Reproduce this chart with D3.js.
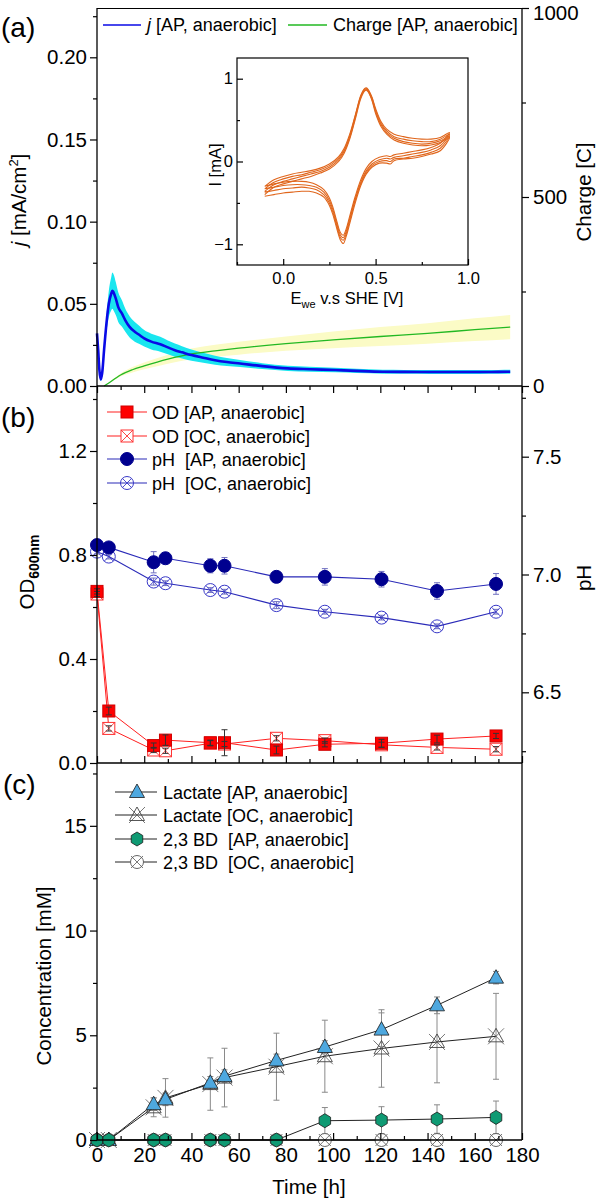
<!DOCTYPE html>
<html><head><meta charset="utf-8">
<script src="https://cdn.jsdelivr.net/npm/d3@7"></script>
<style>
body{margin:0;background:#fff}
text{font-family:Arial,"Liberation Sans",sans-serif;fill:#000}
</style>
</head><body>
<svg id="chart" width="597" height="1203"></svg>
<script>
// ---------------- DATA ----------------
// Panel (a): current density j (mA/cm2) vs time (h)
const jTime = [0,0.5,1,1.6,2.2,3,4,5,6,6.5,7,8,9,10.6,12,13.8,16,18,20,23,26.8,30,33,36,40,45,50,55,60.6,70,80.8,90,101,110,121,130,141,150,162,170,175];
const jMean = [0.032,0.022,0.010,0.004,0.008,0.022,0.038,0.050,0.056,0.058,0.057,0.053,0.048,0.044,0.040,0.036,0.033,0.031,0.029,0.027,0.0254,0.0235,0.0218,0.0205,0.0188,0.0172,0.0157,0.0146,0.0137,0.0121,0.0107,0.0102,0.0097,0.0092,0.0087,0.0086,0.0085,0.0085,0.0085,0.0086,0.0087];
const jSD = [0,0.001,0.001,0.001,0.002,0.003,0.005,0.008,0.010,0.011,0.011,0.010,0.009,0.008,0.007,0.0065,0.006,0.0055,0.005,0.0048,0.0045,0.0042,0.004,0.0037,0.0034,0.003,0.0027,0.0024,0.0021,0.0018,0.0016,0.0015,0.0014,0.0013,0.0012,0.0012,0.0012,0.0012,0.0012,0.0012,0.0012];
// Panel (a): cumulative charge (C)
const qTime = [3,5,8,10,15,20,30,40,50,60,80,100,120,140,160,175];
const qMean = [0,8,21,29,43,53,71,85,93,100,112,122,131,139,149,156];
const qSD   = [0,1,3,4,7,9,12,14,16,17,19,22,25,27,30,32];
// Inset CV: E (V vs SHE) and I (mA), four cycles
const cvEfwd = [-0.10,-0.05,0.00,0.05,0.10,0.15,0.20,0.25,0.30,0.33,0.36,0.39,0.42,0.44,0.45,0.46,0.48,0.50,0.53,0.56,0.60,0.65,0.70,0.75,0.80,0.85,0.90];
const cvErev = [0.90,0.85,0.80,0.75,0.70,0.65,0.60,0.58,0.56,0.52,0.48,0.45,0.42,0.39,0.36,0.34,0.325,0.31,0.29,0.27,0.25,0.22,0.18,0.14,0.10,0.05,0.00,-0.05,-0.10];
const cvFwd1 = [-0.30,-0.22,-0.18,-0.15,-0.13,-0.11,-0.08,-0.03,0.06,0.16,0.33,0.56,0.80,0.88,0.89,0.87,0.78,0.64,0.48,0.39,0.33,0.30,0.28,0.27,0.27,0.29,0.35];
const cvFwd2 = [-0.33,-0.25,-0.21,-0.18,-0.16,-0.13,-0.10,-0.05,0.04,0.14,0.31,0.55,0.79,0.87,0.88,0.86,0.77,0.62,0.46,0.37,0.30,0.27,0.25,0.24,0.24,0.27,0.33];
const cvFwd3 = [-0.36,-0.28,-0.24,-0.21,-0.18,-0.15,-0.12,-0.07,0.02,0.12,0.29,0.53,0.78,0.86,0.87,0.85,0.75,0.60,0.44,0.35,0.28,0.24,0.22,0.21,0.22,0.25,0.31];
const cvFwd4 = [-0.40,-0.31,-0.27,-0.24,-0.21,-0.18,-0.14,-0.09,0.00,0.10,0.27,0.51,0.76,0.85,0.86,0.84,0.74,0.58,0.42,0.33,0.26,0.22,0.20,0.19,0.20,0.23,0.29];
const cvRev1 = [0.35,0.22,0.17,0.14,0.12,0.10,0.08,0.06,0.07,0.05,0.00,-0.08,-0.22,-0.42,-0.66,-0.82,-0.89,-0.86,-0.72,-0.56,-0.44,-0.34,-0.28,-0.25,-0.24,-0.24,-0.25,-0.27,-0.30];
const cvRev2 = [0.33,0.19,0.14,0.11,0.09,0.07,0.05,0.03,0.04,0.02,-0.03,-0.11,-0.25,-0.45,-0.69,-0.85,-0.92,-0.89,-0.75,-0.59,-0.47,-0.37,-0.31,-0.29,-0.28,-0.28,-0.29,-0.31,-0.33];
const cvRev3 = [0.31,0.16,0.11,0.08,0.06,0.04,0.03,0.00,0.01,0.00,-0.05,-0.13,-0.27,-0.47,-0.72,-0.88,-0.95,-0.92,-0.78,-0.62,-0.50,-0.40,-0.34,-0.32,-0.31,-0.32,-0.33,-0.35,-0.37];
const cvRev4 = [0.29,0.13,0.09,0.06,0.04,0.03,0.01,-0.03,-0.02,-0.02,-0.07,-0.15,-0.29,-0.50,-0.75,-0.91,-0.99,-0.95,-0.81,-0.65,-0.53,-0.43,-0.38,-0.36,-0.36,-0.37,-0.38,-0.40,-0.42];
// Panels (b) and (c): sampling times (h)
const sampleTimes = [0,5,24,29,48,54,76,96.5,120.5,144,169];
// Panel (b)
const odAP = [0.66,0.20,0.067,0.088,0.078,0.078,0.05,0.072,0.076,0.092,0.104];
const odAPerr = [0.01,0.015,0.01,0.02,0.01,0.05,0.015,0.01,0.015,0.015,0.01];
const odOC = [0.65,0.133,0.05,0.047,0.076,0.073,0.095,0.086,0.07,0.06,0.053];
const odOCerr = [0.01,0.01,0.01,0.01,0.01,0.01,0.01,0.01,0.01,0.01,0.01];
const phAP = [7.125,7.115,7.052,7.069,7.037,7.037,6.99,6.99,6.98,6.93,6.96];
const phAPerr = [0.01,0.01,0.045,0.02,0.03,0.035,0.02,0.035,0.033,0.035,0.044];
const phOC = [7.097,7.076,6.97,6.963,6.934,6.927,6.87,6.842,6.817,6.78,6.842];
const phOCerr = [0.01,0.01,0.015,0.01,0.01,0.01,0.015,0.01,0.01,0.01,0.01];
// Panel (c)
const lacAP = [0,0,1.71,1.94,2.73,3.05,3.8,4.44,5.27,6.43,7.75];
const lacAPerr = [0,0,0.3,0.3,0.3,0.3,0.3,0.3,0.8,0.4,0.3];
const lacOC = [0,0,1.56,2.01,2.67,2.98,3.5,4.0,4.37,4.68,4.95];
const lacOCerr = [0,0,0.45,0.92,1.25,1.4,1.6,1.72,1.85,1.95,2.05];
const bdAP = [0,0,0,0,0,0,0,0.92,0.95,1.0,1.08];
const bdAPerr = [0,0,0,0,0,0,0,0.63,0.64,0.68,0.78];
const bdOC = [0,0,0,0,0,0,0,0,0,0,0];
// Ticks
const timeTicks = [0,20,40,60,80,100,120,140,160,180];
const timeMinor = [10,30,50,70,90,110,130,150,170];
const jTicks = [0,0.05,0.10,0.15,0.20];
const jMinor = [0.025,0.075,0.125,0.175,0.225];
const qTicks = [0,500,1000];
const qMinor = [250,750];
const odTicks = [0,0.4,0.8,1.2];
const odMinor = [0.2,0.6,1.0,1.4];
const phTicks = [6.5,7.0,7.5];
const phMinor = [6.25,6.75,7.25,7.75];
const concTicks = [0,5,10,15];
const concMinor = [2.5,7.5,12.5,17.5];
const cvXTicks = [0,0.5,1.0];
const cvXMinor = [-0.25,0.25,0.75];
const cvYTicks = [-1,0,1];
const cvYMinor = [-0.5,0.5];

// ---------------- LAYOUT ----------------
const svg = d3.select("#chart");
const L = 97, R = 522;
const x = d3.scaleLinear().domain([0,180]).range([L,R]);
const yJ = d3.scaleLinear().domain([0,0.23]).range([386,8]);
const yQ = d3.scaleLinear().domain([0,1000]).range([386,8]);
const yOD = d3.scaleLinear().domain([0,1.45]).range([763,386]);
const yPH = d3.scaleLinear().domain([6.2,7.8]).range([763,386]);
const yC = d3.scaleLinear().domain([0,18]).range([1140,763]);
const FS = 20.5;

function styleAxis(g, fs){
  g.select(".domain").remove();
  g.selectAll(".tick line").attr("stroke","#000").attr("stroke-width",1.2);
  g.selectAll(".tick text").attr("font-size",fs).attr("fill","#000")
    .style("font-family","Arial, 'Liberation Sans', sans-serif");
}
function axisPair(axisFn, scale, majors, minors, tx, ty, major, minor, fmt, fs, pad){
  const g1 = svg.append("g").attr("transform",`translate(${tx},${ty})`)
    .call(axisFn(scale).tickValues(majors).tickSize(major).tickPadding(pad).tickFormat(fmt));
  styleAxis(g1, fs);
  const g2 = svg.append("g").attr("transform",`translate(${tx},${ty})`)
    .call(axisFn(scale).tickValues(minors).tickSize(minor).tickFormat(""));
  styleAxis(g2, fs);
  return g1;
}

// ---------------- PANEL (a) ----------------
const qData = qTime.map((t,i)=>({t, m:qMean[i], s:qSD[i]}));
const jData = jTime.map((t,i)=>({t, m:jMean[i], s:jSD[i]}));
svg.append("path").datum(qData)
  .attr("d", d3.area().x(d=>x(d.t)).y0(d=>yQ(Math.max(0,d.m-d.s))).y1(d=>yQ(d.m+d.s)).curve(d3.curveMonotoneX))
  .attr("fill","#fbfbc6");
svg.append("path").datum(jData)
  .attr("d", d3.area().x(d=>x(d.t)).y0(d=>yJ(d.m-d.s)).y1(d=>yJ(d.m+d.s)).curve(d3.curveMonotoneX))
  .attr("fill","#19e6ef");
svg.append("path").datum(qData)
  .attr("d", d3.line().x(d=>x(d.t)).y(d=>yQ(d.m)).curve(d3.curveMonotoneX))
  .attr("fill","none").attr("stroke","#22b822").attr("stroke-width",1.3);
svg.append("path").datum(jData)
  .attr("d", d3.line().x(d=>x(d.t)).y(d=>yJ(d.m)).curve(d3.curveMonotoneX))
  .attr("fill","none").attr("stroke","#0a0ae6").attr("stroke-width",2.6);

// axes (a)
axisPair(d3.axisLeft, yJ, jTicks, jMinor, L, 0, 7, 4, d3.format(".2f"), FS, 3);
const gq = axisPair(d3.axisRight, yQ, qTicks, qMinor, R, 0, 7, 4, d3.format("d"), FS, 4);
gq.selectAll(".tick text").filter(d=>d===1000).attr("dy","0.58em");
axisPair(d3.axisBottom, x, timeTicks, timeMinor, 0, 386, 7, 4, "", FS, 3);
svg.append("line").attr("x1",L).attr("x2",R).attr("y1",8.5).attr("y2",8.5).attr("stroke","#000").attr("stroke-width",1.2);

// legend (a)
svg.append("line").attr("x1",103).attr("x2",141).attr("y1",25).attr("y2",25).attr("stroke","#0a0ae6").attr("stroke-width",1.3);
const la = svg.append("text").attr("x",147).attr("y",31).attr("font-size",18);
la.append("tspan").attr("font-style","italic").text("j");
la.append("tspan").text(" [AP, anaerobic]");
svg.append("line").attr("x1",288).attr("x2",327).attr("y1",25).attr("y2",25).attr("stroke","#22b822").attr("stroke-width",1.3);
svg.append("text").attr("x",333).attr("y",31).attr("font-size",18).text("Charge [AP, anaerobic]");

// inset CV
const cx = d3.scaleLinear().domain([-0.25,1.0]).range([237,468]);
const cy = d3.scaleLinear().domain([-1.25,1.25]).range([265,58]);
svg.append("rect").attr("x",237).attr("y",58).attr("width",231).attr("height",207)
  .attr("fill","#fff").attr("stroke","#000").attr("stroke-width",1.2);
const cycles = [[cvFwd1,cvRev1],[cvFwd2,cvRev2],[cvFwd3,cvRev3],[cvFwd4,cvRev4]];
const cvLine = d3.line().x(d=>cx(d[0])).y(d=>cy(d[1])).curve(d3.curveCatmullRom.alpha(0.5));
cycles.forEach(([f,r])=>{
  const pts = cvEfwd.map((e,i)=>[e,f[i]]).concat(cvErev.slice(1).map((e,i)=>[e,r[i+1]]));
  svg.append("path").datum(pts).attr("d",cvLine).attr("fill","none").attr("stroke","#e0661c").attr("stroke-width",1.1);
});
axisPair(d3.axisLeft, cy, cvYTicks, cvYMinor, 237, 0, -6, -3, d3.format("d"), 16.5, 4);
axisPair(d3.axisBottom, cx, cvXTicks, cvXMinor, 0, 265, -6, -3, d3.format(".1f"), 16.5, 7);
svg.append("text").attr("transform","translate(221,165) rotate(-90)").attr("text-anchor","middle").attr("font-size",16.5).text("I [mA]");
const ex = svg.append("text").attr("x",347).attr("y",304).attr("text-anchor","middle").attr("font-size",16.5);
ex.append("tspan").text("E");
ex.append("tspan").attr("font-size",11).attr("dy",4).text("we");
ex.append("tspan").attr("dy",-4).text(" v.s SHE [V]");

// ---------------- PANEL (b) ----------------
function errBars(times, vals, errs, scale, color, cap){
  times.forEach((t,i)=>{
    if(!errs[i]) return;
    const xx = x(t), y1 = scale(vals[i]-errs[i]), y2 = scale(vals[i]+errs[i]);
    svg.append("line").attr("x1",xx).attr("x2",xx).attr("y1",y1).attr("y2",y2).attr("stroke",color).attr("stroke-width",1);
    [y1,y2].forEach(yy=>svg.append("line").attr("x1",xx-cap).attr("x2",xx+cap).attr("y1",yy).attr("y2",yy).attr("stroke",color).attr("stroke-width",1));
  });
}
function seriesLine(times, vals, scale, color, w){
  svg.append("path").datum(times.map((t,i)=>[x(t),scale(vals[i])]))
    .attr("d", d3.line()).attr("fill","none").attr("stroke",color).attr("stroke-width",w);
}
function marker(g, type, px, py){
  const s = g.append("g").attr("transform",`translate(${px},${py})`);
  if(type==="sqFill"){
    s.append("rect").attr("x",-6).attr("y",-6).attr("width",12).attr("height",12).attr("fill","#ff0000").attr("stroke","#d00000");
  } else if(type==="sqX"){
    s.append("rect").attr("x",-6).attr("y",-6).attr("width",12).attr("height",12).attr("fill","#fff").attr("stroke","#ff3030");
    s.append("path").attr("d","M-6,-6L6,6M-6,6L6,-6").attr("stroke","#ff3030").attr("stroke-width",0.9);
  } else if(type==="cirFill"){
    s.append("circle").attr("r",6.5).attr("fill","#00008f").attr("stroke","#00008f");
  } else if(type==="cirXblue"){
    s.append("circle").attr("r",6.5).attr("fill","none").attr("stroke","#3a3ac8");
    s.append("path").attr("d","M-4.6,-4.6L4.6,4.6M-4.6,4.6L4.6,-4.6").attr("stroke","#3a3ac8").attr("stroke-width",0.9);
  } else if(type==="triFill"){
    s.append("path").attr("d","M0,-8L7.5,5.5L-7.5,5.5Z").attr("fill","#4ea8df").attr("stroke","#1a1a1a").attr("stroke-width",0.8);
  } else if(type==="triX"){
    s.append("path").attr("d","M-8,-8L8,8M-8,8L8,-8").attr("stroke","#555").attr("stroke-width",0.8);
    s.append("path").attr("d","M0,-8L7.5,5.5L-7.5,5.5Z").attr("fill","none").attr("stroke","#444").attr("stroke-width",0.9);
  } else if(type==="hex"){
    const r=7;
    const pts = d3.range(6).map(k=>{const a=Math.PI/3*k - Math.PI/2; return [r*Math.cos(a)*0.95, r*Math.sin(a)];});
    s.append("path").attr("d","M"+pts.join("L")+"Z").attr("fill","#0f9a73").attr("stroke","#1a1a1a").attr("stroke-width",0.8);
  } else if(type==="cirXgrey"){
    s.append("circle").attr("r",6.5).attr("fill","#fff").attr("stroke","#555").attr("stroke-width",0.9);
    s.append("path").attr("d","M-6,-6L6,6M-6,6L6,-6").attr("stroke","#555").attr("stroke-width",0.8);
  }
}
function markers(times, vals, scale, type){
  const g = svg.append("g");
  times.forEach((t,i)=>marker(g,type,x(t),scale(vals[i])));
}

errBars(sampleTimes, phOC, phOCerr, yPH, "#7070c0", 3);
errBars(sampleTimes, phAP, phAPerr, yPH, "#7070c0", 3);
seriesLine(sampleTimes, odOC, yOD, "#ff2020", 1);
seriesLine(sampleTimes, odAP, yOD, "#ff2020", 1);
seriesLine(sampleTimes, phOC, yPH, "#2a2ab8", 1.1);
seriesLine(sampleTimes, phAP, yPH, "#2a2ab8", 1.1);
markers(sampleTimes, odOC, yOD, "sqX");
markers(sampleTimes, odAP, yOD, "sqFill");
errBars(sampleTimes, odOC, odOCerr, yOD, "#333", 3);
errBars(sampleTimes, odAP, odAPerr, yOD, "#333", 3);
markers(sampleTimes, phOC, yPH, "cirXblue");
markers(sampleTimes, phAP, yPH, "cirFill");

axisPair(d3.axisLeft, yOD, odTicks, odMinor, L, 0, 7, 4, d3.format(".1f"), FS, 3);
axisPair(d3.axisRight, yPH, phTicks, phMinor, R, 0, 7, 4, d3.format(".1f"), FS, 4);
axisPair(d3.axisTop, x, timeTicks, timeMinor, 0, 763, 7, 4, "", FS, 3);

// legend (b)
const legB = [["sqFill","#ff2020","OD [AP, anaerobic]"],["sqX","#ff2020","OD [OC, anaerobic]"],["cirFill","#2a2ab8","pH  [AP, anaerobic]"],["cirXblue","#2a2ab8","pH  [OC, anaerobic]"]];
const legBy = [412,436,459,483];
legB.forEach((d,i)=>{
  const yy = legBy[i];
  svg.append("line").attr("x1",107).attr("x2",147).attr("y1",yy).attr("y2",yy).attr("stroke",d[1]).attr("stroke-width",1.1);
  marker(svg, d[0], 127, yy);
  svg.append("text").attr("x",152).attr("y",yy+6.5).attr("font-size",18).style("white-space","pre").text(d[2]);
});

// ---------------- PANEL (c) ----------------
errBars(sampleTimes, lacOC, lacOCerr, yC, "#8a8a8a", 3);
errBars(sampleTimes, lacAP, lacAPerr, yC, "#8a8a8a", 3);
errBars(sampleTimes, bdAP, bdAPerr, yC, "#8a8a8a", 3);
seriesLine(sampleTimes, lacOC, yC, "#222", 1);
seriesLine(sampleTimes, lacAP, yC, "#222", 1);
seriesLine(sampleTimes, bdOC, yC, "#222", 1);
seriesLine(sampleTimes, bdAP, yC, "#222", 1);
markers(sampleTimes, lacOC, yC, "triX");
markers(sampleTimes, lacAP, yC, "triFill");
markers(sampleTimes, bdOC, yC, "cirXgrey");
markers(sampleTimes, bdAP, yC, "hex");

axisPair(d3.axisLeft, yC, concTicks, concMinor, L, 0, 7, 4, d3.format("d"), FS, 3);
axisPair(d3.axisBottom, x, timeTicks, timeMinor, 0, 1140, -7, -4, d3.format("d"), FS, 7);

// legend (c)
const legC = [["triFill","Lactate [AP, anaerobic]"],["triX","Lactate [OC, anaerobic]"],["hex","2,3 BD  [AP, anaerobic]"],["cirXgrey","2,3 BD  [OC, anaerobic]"]];
const legCy = [792,815,839,862];
legC.forEach((d,i)=>{
  const yy = legCy[i];
  svg.append("line").attr("x1",115).attr("x2",157).attr("y1",yy).attr("y2",yy).attr("stroke","#222").attr("stroke-width",1);
  marker(svg, d[0], 137, yy);
  svg.append("text").attr("x",163).attr("y",yy+6.5).attr("font-size",18).style("white-space","pre").text(d[1]);
});

// frame lines
svg.append("line").attr("x1",L).attr("x2",L).attr("y1",8).attr("y2",1140).attr("stroke","#000").attr("stroke-width",1.3);
svg.append("line").attr("x1",R).attr("x2",R).attr("y1",8).attr("y2",1140).attr("stroke","#000").attr("stroke-width",1.3);
[386,763,1140].forEach(yy=>svg.append("line").attr("x1",L).attr("x2",R).attr("y1",yy).attr("y2",yy).attr("stroke","#000").attr("stroke-width",1.3));

// axis titles
const tj = svg.append("text").attr("transform","translate(26,200) rotate(-90)").attr("text-anchor","middle").attr("font-size",FS);
tj.append("tspan").attr("font-style","italic").text("j");
tj.append("tspan").text(" [mA/cm");
tj.append("tspan").attr("font-size",13).attr("dy",-8).text("2");
tj.append("tspan").attr("dy",8).text("]");
svg.append("text").attr("transform","translate(591,192) rotate(-90)").attr("text-anchor","middle").attr("font-size",FS).text("Charge [C]");
const tod = svg.append("text").attr("transform","translate(34,572) rotate(-90)").attr("text-anchor","middle").attr("font-size",FS);
tod.append("tspan").text("OD");
tod.append("tspan").attr("font-size",14).attr("dy",5).attr("font-weight","bold").text("600nm");
svg.append("text").attr("transform","translate(591,578) rotate(-90)").attr("text-anchor","middle").attr("font-size",FS).text("pH");
svg.append("text").attr("transform","translate(51,976) rotate(-90)").attr("text-anchor","middle").attr("font-size",FS).text("Concentration [mM]");
svg.append("text").attr("x",309).attr("y",1194).attr("text-anchor","middle").attr("font-size",FS).text("Time [h]");

// panel letters
svg.append("text").attr("x",1).attr("y",37).attr("font-size",28).text("(a)");
svg.append("text").attr("x",1).attr("y",427).attr("font-size",28).text("(b)");
svg.append("text").attr("x",3).attr("y",794).attr("font-size",28).text("(c)");
</script>
</body></html>
